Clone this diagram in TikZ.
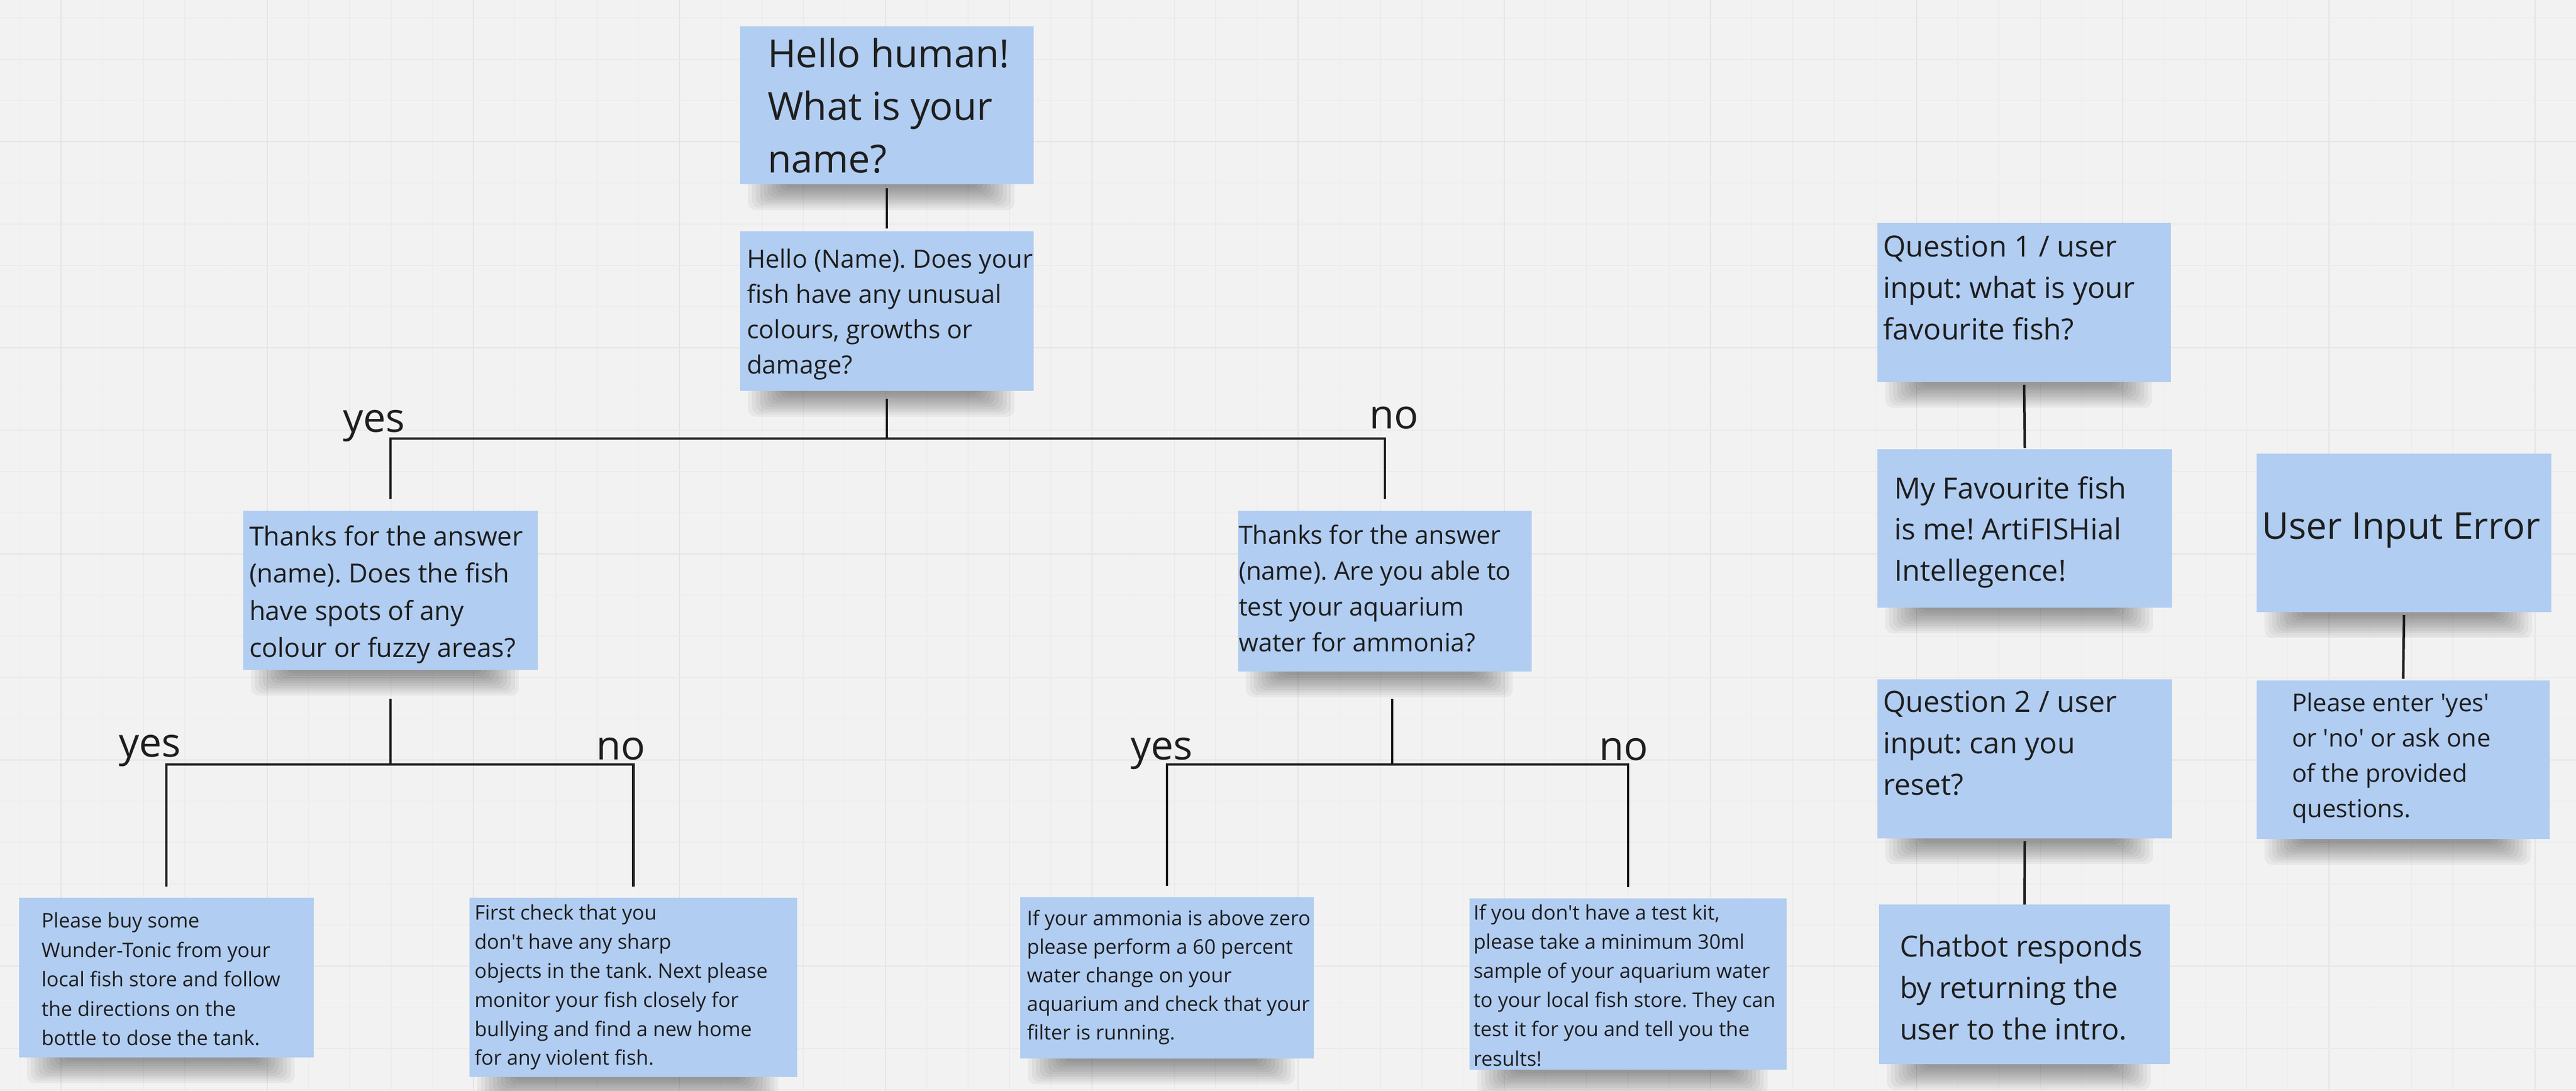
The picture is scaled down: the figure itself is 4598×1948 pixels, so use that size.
\documentclass[tikz,border=0pt]{standalone}
\usepackage{fontspec}
\setmainfont{Open Sans}
\usetikzlibrary{calc}
\definecolor{bgc}{HTML}{F2F2F2}
\definecolor{gridminor}{HTML}{EBEBEB}
\definecolor{gridmajor}{HTML}{E4E4E4}
\definecolor{stickyblue}{HTML}{B1CDF1}
\definecolor{inkc}{HTML}{1E1E1E}
\pgfdeclarelayer{bglayer}
\pgfdeclarelayer{shadowlayer}
\pgfsetlayers{bglayer,shadowlayer,main}
\newcommand\stickyshadow[1]{%
  \foreach \i in {0,...,9}{%
    \fill[black,opacity=0.045,rounded corners=14pt]
      ([xshift={(14+7*\i)*1pt},yshift=20pt]#1.south west) rectangle
      ([xshift={-(34+7*\i)*1pt},yshift={-(46-4.4*\i)*1pt}]#1.south east);
  }}
\tikzset{
  sticky/.style={fill=stickyblue,draw=none,inner sep=0pt,outer sep=0pt,anchor=north west},
  note/.style={anchor=north west,inner sep=0pt,outer sep=0pt,align=left,text=inkc},
  lbl/.style={anchor=base west,inner sep=0pt,outer sep=0pt,text=inkc,font=\fontsize{72}{90}\selectfont},
  conn/.style={draw=inkc,line width=4.5pt}
}
\begin{document}
\frenchspacing
\begin{tikzpicture}[x=1pt,y=-1pt]
\useasboundingbox (0,0) rectangle (4598,1948);
\begin{pgfonlayer}{bglayer}
  \fill[bgc] (0,0) rectangle (4598,1948);
  \foreach \k in {0,...,62}{
    \pgfmathsetmacro\xx{35.4+73.6*\k}
    \pgfmathtruncatemacro\mm{mod(\k,5)}
    \ifnum\mm=1
      \draw[gridmajor,line width=2.5pt] (\xx,0) -- (\xx,1948);
    \else
      \draw[gridminor,line width=1.5pt] (\xx,0) -- (\xx,1948);
    \fi
  }
  \foreach \k in {0,...,26}{
    \pgfmathsetmacro\yy{32.2+73.6*\k}
    \pgfmathtruncatemacro\mm{mod(\k,5)}
    \ifnum\mm=3
      \draw[gridmajor,line width=2.5pt] (0,\yy) -- (4598,\yy);
    \else
      \draw[gridminor,line width=1.5pt] (0,\yy) -- (4598,\yy);
    \fi
  }
\end{pgfonlayer}

% sticky notes
\node[sticky,minimum width=524pt,minimum height=282pt] (hello) at (1321,47) {};
\node[sticky,minimum width=524pt,minimum height=285pt] (q0) at (1321,413) {};
\node[sticky,minimum width=526pt,minimum height=284pt] (qa) at (434,912) {};
\node[sticky,minimum width=524pt,minimum height=287pt] (qb) at (2210,912) {};
\node[sticky,minimum width=526pt,minimum height=285pt] (a1) at (34,1603) {};
\node[sticky,minimum width=585pt,minimum height=320pt] (a2) at (838,1603) {};
\node[sticky,minimum width=524pt,minimum height=288pt] (a3) at (1821,1602) {};
\node[sticky,minimum width=566pt,minimum height=306pt] (a4) at (2623,1604) {};
\node[sticky,minimum width=524pt,minimum height=284pt] (q1) at (3351,398) {};
\node[sticky,minimum width=526pt,minimum height=283pt] (fav) at (3351,802) {};
\node[sticky,minimum width=526pt,minimum height=284pt] (q2) at (3351,1213) {};
\node[sticky,minimum width=519pt,minimum height=285pt] (chat) at (3354,1615) {};
\node[sticky,minimum width=526pt,minimum height=283pt] (uie) at (4028,810) {};
\node[sticky,minimum width=523pt,minimum height=283pt] (pe) at (4028,1215) {};

\begin{pgfonlayer}{shadowlayer}
  \foreach \n in {hello,q0,qa,qb,a1,a2,a3,a4,q1,fav,q2,chat,uie,pe}{\stickyshadow{\n}}
\end{pgfonlayer}

% texts
\node[note,font=\fontsize{69}{94}\selectfont] (hellot) at (1370,67.6) {Hello human!\\What is your\\name?};
\node[note,font=\fontsize{45}{63}\selectfont] (q0t) at (1333,444.8) {Hello (Name). Does your\\fish have any unusual\\colours, growths or\\damage?};
\node[note,font=\fontsize{47}{66.5}\selectfont] (qat) at (445,938.3) {Thanks for the answer\\(name). Does the fish\\have spots of any\\colour or fuzzy areas?};
\node[note,font=\fontsize{45}{64}\selectfont] (qbt) at (2211,936.8) {Thanks for the answer\\(name). Are you able to\\test your aquarium\\water for ammonia?};
\node[note,font=\fontsize{36}{52.5}\selectfont] (a1t) at (74,1629.6) {Please buy some\\Wunder-Tonic from your\\local fish store and follow\\the directions on the\\bottle to dose the tank.};
\node[note,font=\fontsize{36}{51.8}\selectfont] (a2t) at (847,1615.6) {First check that you\\don\textquotesingle t have any sharp\\objects in the tank. Next please\\monitor your fish closely for\\bullying and find a new home\\for any violent fish.};
\node[note,font=\fontsize{36}{51}\selectfont] (a3t) at (1833,1624.6) {If your ammonia is above zero\\please perform a 60 percent\\water change on your\\aquarium and check that your\\filter is running.};
\node[note,font=\fontsize{36}{52.2}\selectfont] (a4t) at (2630,1614.6) {If you don\textquotesingle t have a test kit,\\please take a minimum 30ml\\sample of your aquarium water\\to your local fish store. They can\\test it for you and tell you the\\results!};
\node[note,font=\fontsize{52}{74}\selectfont] (q1t) at (3361,420.5) {Question 1 / user\\input: what is your\\favourite fish?};
\node[note,font=\fontsize{52}{73.5}\selectfont] (favt) at (3381,850.5) {My Favourite fish\\is me! ArtiFISHial\\Intellegence!};
\node[note,font=\fontsize{52}{74}\selectfont] (q2t) at (3361,1233.5) {Question 2 / user\\input: can you\\reset?};
\node[note,font=\fontsize{52}{74}\selectfont] (chatt) at (3391,1668.5) {Chatbot responds\\by returning the\\user to the intro.};
\node[note,font=\fontsize{66}{90}\selectfont] (uiet) at (4037,914.9) {User Input Error};
\node[note,font=\fontsize{44}{63}\selectfont] (pet) at (4091,1236.6) {Please enter \textquotesingle yes\textquotesingle\\or \textquotesingle no\textquotesingle{} or ask one\\of the provided\\questions.};

% junctions
\coordinate (j1) at (1583,783);
\coordinate (j2) at (697,1365);
\coordinate (j3) at (2485,1365);

% connectors
\draw[conn,shorten <=7pt,shorten >=5pt] (hello.south) -- (q0.north);
\draw[conn,shorten <=14pt] (q0.south) -- (j1);
\draw[conn,shorten >=21pt] (j1) -| (qa.north);
\draw[conn,shorten >=21pt] (j1) -| (qb.north);
\draw[conn,shorten <=52pt] (qa.south) -- (j2);
\draw[conn,shorten >=20pt] (j2) -| (a1.north);
\draw[conn,shorten >=20pt] (j2) -| (a2.north);
\draw[conn,shorten <=49pt] (qb.south -| j3) -- (j3);
\draw[conn,shorten >=20pt] (j3) -| (a3.north);
\draw[conn,shorten >=20pt] (j3) -| (a4.north);
\draw[conn,shorten <=5pt,shorten >=2pt] (q1.south) -- (fav.north);
\draw[conn,shorten <=5pt] (q2.south) -- (chat.north);
\draw[conn,shorten <=5pt,shorten >=3pt] (uie.south) -- (pe.north);

% labels
\node[lbl] (yes1) at (612,771) {yes};
\node[lbl] (no1) at (2444,765) {no};
\node[lbl] (yes2) at (212,1351) {yes};
\node[lbl] (no2) at (1064,1356) {no};
\node[lbl] (yes3) at (2018,1356) {yes};
\node[lbl] (no3) at (2854,1357) {no};
\end{tikzpicture}
\end{document}
